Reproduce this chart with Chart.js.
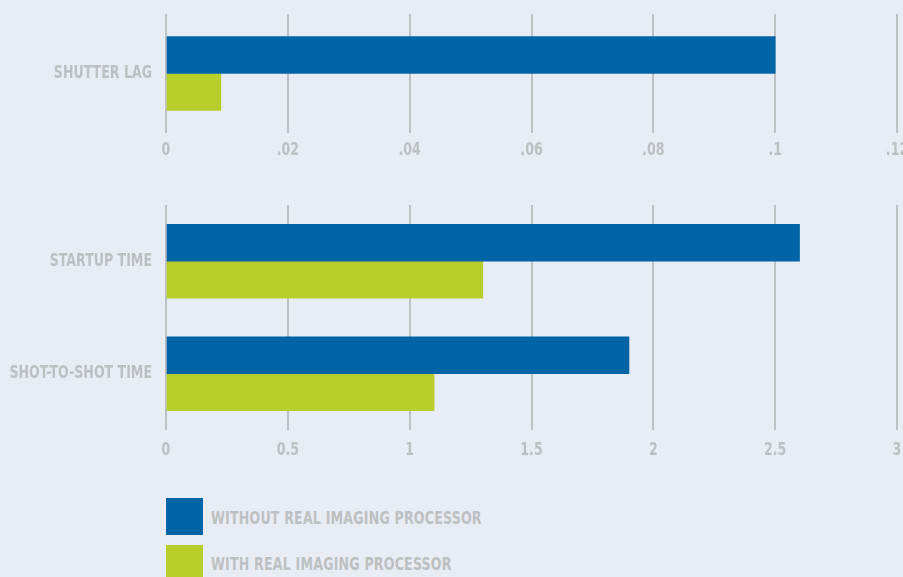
<!DOCTYPE html>
<html>
<head>
<meta charset="utf-8">
<script src="https://cdn.jsdelivr.net/npm/chart.js@4"></script>
<style>
  html, body { margin: 0; padding: 0; background: #e8ecf5; overflow: hidden; width: 903px; height: 577px; }
  .wrap { position: absolute; left: 0; }
  #top-wrap { top: 0; width: 940px; height: 173px; }
  #bottom-wrap { top: 180px; width: 940px; height: 290px; }
  .legend-item { position: absolute; left: 166px; height: 37px; display: flex; align-items: center; }
  .legend-item .box { width: 37px; height: 37px; margin-right: 8px; }
  .legend-item span {
    display: inline-block;
    font-family: 'DejaVu Sans Condensed', sans-serif;
    font-weight: bold; font-size: 14px; color: #bcc0c2;
    letter-spacing: 0.2px;
    transform: scaleY(1.3);
  }
</style>
</head>
<body>
<div class="wrap" id="top-wrap"><canvas id="topChart" width="940" height="173"></canvas></div>
<div class="wrap" id="bottom-wrap"><canvas id="bottomChart" width="940" height="290"></canvas></div>
<div class="legend-item" style="top:498px"><div class="box" style="background:#0065a6"></div><span>WITHOUT REAL IMAGING PROCESSOR</span></div>
<div class="legend-item" style="top:545px"><div class="box" style="background:#b8ce2a"></div><span>WITH REAL IMAGING PROCESSOR</span></div>
<script>
const seriesNames = ['WITHOUT REAL IMAGING PROCESSOR', 'WITH REAL IMAGING PROCESSOR'];

const topCategories = ['SHUTTER LAG'];
const topWithout = [0.1];
const topWith = [0.009];
const topTicks = ['0', '.02', '.04', '.06', '.08', '.1', '.12'];

const bottomCategories = ['STARTUP TIME', 'SHOT-TO-SHOT TIME'];
const bottomWithout = [2.6, 1.9];
const bottomWith = [1.3, 1.1];
const bottomTicks = ['0', '0.5', '1', '1.5', '2', '2.5', '3'];

const blue = '#0065a6';
const green = '#b8ce2a';
const gridGray = '#bec1c3';
const textGray = '#bcc0c2';

Chart.defaults.font.family = "'DejaVu Sans Condensed', sans-serif";
Chart.defaults.font.weight = 'bold';
Chart.defaults.font.size = 14;
Chart.defaults.color = textGray;

// the original lettering is a tall condensed face, stretch text vertically
const tallText = {
    id: 'tallText',
    beforeDraw(chart) {
        const ctx = chart.ctx;
        if (ctx._tall) return;
        const orig = ctx.fillText;
        ctx.fillText = function(t, x, y, m) {
            this.save();
            this.translate(x, y);
            this.scale(1, 1.3);
            if (m === undefined) orig.call(this, t, 0, 0);
            else orig.call(this, t, 0, 0, m);
            this.restore();
        };
        ctx._tall = true;
    }
};

function makeChart(id, labels, without, withP, max, step, tickLabels, padTop, tickPad) {
    const ctx = document.getElementById(id).getContext('2d');
    return new Chart(ctx, {
        type: 'bar',
        data: {
            labels: labels,
            datasets: [
                { label: seriesNames[0], data: without, backgroundColor: blue, barThickness: 37 },
                { label: seriesNames[1], data: withP, backgroundColor: green, barThickness: 37 }
            ]
        },
        options: {
            indexAxis: 'y',
            responsive: false,
            animation: false,
            layout: { padding: { top: padTop, right: 43, left: 0, bottom: 0 } },
            plugins: { legend: { display: false }, tooltip: { enabled: false } },
            scales: {
                x: {
                    min: 0,
                    max: max,
                    ticks: {
                        stepSize: step,
                        padding: tickPad,
                        callback: function(v, i) { return tickLabels[i]; }
                    },
                    grid: { color: gridGray, lineWidth: 2, drawTicks: false },
                    border: { display: false },
                    afterFit: function(s) { s.height = 40; }
                },
                y: {
                    ticks: { padding: 14 },
                    grid: { display: false, drawTicks: false },
                    border: { display: false },
                    afterFit: function(s) {
                        s.width = 166;
                        s.paddingTop = 0;
                        s.paddingBottom = 0;
                    }
                }
            }
        },
        plugins: [tallText]
    });
}

const topChart = makeChart('topChart', topCategories, topWithout, topWith, 0.12, 0.02, topTicks, 14, 9);
const bottomChart = makeChart('bottomChart', bottomCategories, bottomWithout, bottomWith, 3, 0.5, bottomTicks, 25, 12);
</script>
</body>
</html>
